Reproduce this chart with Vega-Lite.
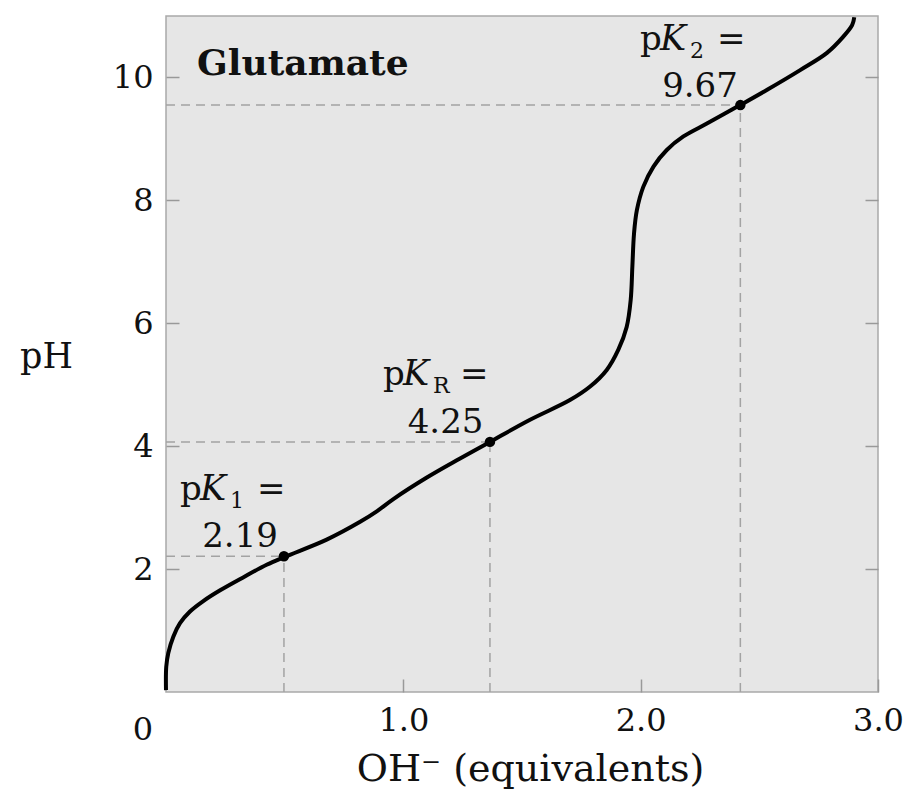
{
  "$schema": "https://vega.github.io/schema/vega-lite/v6.json",
  "width": 712,
  "height": 676,
  "autosize": "none",
  "padding": {"left": 166, "top": 16, "right": 31, "bottom": 97},
  "background": "white",
  "config": {
    "font": "DejaVu Serif",
    "view": {"stroke": "#a9a9a9", "strokeWidth": 1.5, "fill": "#e6e6e6"}
  },
  "datasets": {
    "curve": [
      {"x": 0.0, "y": 0.03}, {"x": 0.001, "y": 0.41}, {"x": 0.0097, "y": 0.635},
      {"x": 0.0308, "y": 0.9}, {"x": 0.059, "y": 1.12}, {"x": 0.101, "y": 1.31},
      {"x": 0.157, "y": 1.48}, {"x": 0.228, "y": 1.655}, {"x": 0.325, "y": 1.865},
      {"x": 0.424, "y": 2.07}, {"x": 0.501, "y": 2.2}, {"x": 0.677, "y": 2.48},
      {"x": 0.818, "y": 2.77}, {"x": 0.888, "y": 2.94}, {"x": 0.958, "y": 3.14},
      {"x": 1.099, "y": 3.49}, {"x": 1.239, "y": 3.8}, {"x": 1.365, "y": 4.07},
      {"x": 1.534, "y": 4.43}, {"x": 1.702, "y": 4.75}, {"x": 1.787, "y": 4.97},
      {"x": 1.857, "y": 5.24}, {"x": 1.906, "y": 5.57}, {"x": 1.941, "y": 5.94},
      {"x": 1.958, "y": 6.38}, {"x": 1.965, "y": 6.92}, {"x": 1.972, "y": 7.46},
      {"x": 1.984, "y": 7.84}, {"x": 2.011, "y": 8.22}, {"x": 2.054, "y": 8.55},
      {"x": 2.11, "y": 8.82}, {"x": 2.18, "y": 9.04}, {"x": 2.279, "y": 9.25},
      {"x": 2.419, "y": 9.55}, {"x": 2.533, "y": 9.8}, {"x": 2.672, "y": 10.12},
      {"x": 2.785, "y": 10.4}, {"x": 2.853, "y": 10.66}, {"x": 2.891, "y": 10.85},
      {"x": 2.9, "y": 10.98}
    ],
    "pk": [
      {"name": "pK1", "x": 0.497, "y": 2.21, "base": 0, "sub": "1", "eq": "=", "val": "2.19", "lx": 0.059, "ly": 3.125, "vx": 0.312, "vy": 2.36},
      {"name": "pKR", "x": 1.365, "y": 4.07, "base": 0, "sub": "R", "eq": "\u2008=", "val": "4.25", "lx": 0.914, "ly": 5.0, "vx": 1.178, "vy": 4.215},
      {"name": "pK2", "x": 2.42, "y": 9.55, "base": 0, "sub": "2", "eq": "=", "val": "9.67", "lx": 1.997, "ly": 10.45, "vx": 2.25, "vy": 9.68}
    ],
    "titles": [
      {"x": 0.131, "y": 10.04, "label": "Glutamate"}
    ],
    "origin": [
      {"x": 0, "y": 0, "label": "0"}
    ]
  },
  "resolve": {"axis": {"y": "independent"}},
  "layer": [
    {
      "data": {"name": "pk"},
      "mark": {"type": "rule", "strokeDash": [9, 6], "color": "#a3a3a3", "strokeWidth": 1.5},
      "encoding": {
        "x": {
          "field": "base", "type": "quantitative",
          "scale": {"domain": [0, 3], "nice": false},
          "axis": {
            "values": [1, 2, 3], "format": ".1f", "tickSize": -13, "tickColor": "#999999", "tickWidth": 1.5,
            "labelPadding": 51, "labelBaseline": "alphabetic", "labelFontSize": 32, "labelColor": "#111111",
            "labelFlush": false, "labelFont": "DejaVu Serif",
            "domain": false, "grid": false,
            "title": "OH\u207b (equivalents)", "titleFont": "DejaVu Serif", "titleFontSize": 38, "titleFontWeight": "normal",
            "titleColor": "#111111", "titleX": 364, "titleY": 88, "titleAlign": "center", "titleBaseline": "alphabetic"
          }
        },
        "x2": {"field": "x"},
        "y": {
          "field": "y", "type": "quantitative",
          "scale": {"domain": [0, 11], "nice": false},
          "axis": {
            "orient": "left",
            "values": [2, 4, 6, 8, 10], "tickSize": -13, "tickColor": "#999999", "tickWidth": 1.5,
            "labelPadding": 26, "labelFontSize": 32, "labelColor": "#111111", "labelFont": "DejaVu Serif",
            "labelBaseline": "middle", "labelFlush": false,
            "domain": false, "grid": false,
            "title": "pH", "titleAngle": 0, "titleFont": "DejaVu Serif", "titleFontSize": 35, "titleFontWeight": "normal",
            "titleColor": "#111111", "titleX": -120, "titleY": 351, "titleAlign": "center", "titleBaseline": "alphabetic"
          }
        }
      }
    },
    {
      "data": {"name": "pk"},
      "mark": {"type": "rule", "strokeDash": [9, 6], "color": "#a3a3a3", "strokeWidth": 1.5},
      "encoding": {
        "x": {"field": "x", "type": "quantitative"},
        "y": {
          "field": "base", "type": "quantitative",
          "axis": {"orient": "right", "values": [2, 4, 6, 8, 10], "tickSize": -13, "tickColor": "#999999", "tickWidth": 1.5,
                   "labels": false, "domain": false, "grid": false, "title": null}
        },
        "y2": {"field": "y"}
      }
    },
    {
      "data": {"name": "curve"},
      "mark": {"type": "line", "color": "black", "strokeWidth": 4, "interpolate": "catmull-rom"},
      "encoding": {
        "x": {"field": "x", "type": "quantitative"},
        "y": {"field": "y", "type": "quantitative", "axis": null}
      }
    },
    {
      "data": {"name": "pk"},
      "mark": {"type": "point", "filled": true, "color": "black", "size": 110, "opacity": 1},
      "encoding": {
        "x": {"field": "x", "type": "quantitative"},
        "y": {"field": "y", "type": "quantitative", "axis": null}
      }
    },
    {
      "data": {"name": "pk"},
      "mark": {"type": "text", "align": "left", "baseline": "alphabetic", "fontSize": 34, "color": "#111111"},
      "encoding": {
        "x": {"field": "lx", "type": "quantitative"},
        "y": {"field": "ly", "type": "quantitative", "axis": null},
        "text": {"value": "p"}
      }
    },
    {
      "data": {"name": "pk"},
      "mark": {"type": "text", "align": "left", "baseline": "alphabetic", "fontSize": 35, "fontStyle": "italic", "dx": 20, "color": "#111111"},
      "encoding": {
        "x": {"field": "lx", "type": "quantitative"},
        "y": {"field": "ly", "type": "quantitative", "axis": null},
        "text": {"value": "K"}
      }
    },
    {
      "data": {"name": "pk"},
      "mark": {"type": "text", "align": "left", "baseline": "alphabetic", "fontSize": 22, "dx": 50, "dy": 8, "color": "#111111"},
      "encoding": {
        "x": {"field": "lx", "type": "quantitative"},
        "y": {"field": "ly", "type": "quantitative", "axis": null},
        "text": {"field": "sub"}
      }
    },
    {
      "data": {"name": "pk"},
      "mark": {"type": "text", "align": "left", "baseline": "alphabetic", "fontSize": 34, "dx": 77, "color": "#111111"},
      "encoding": {
        "x": {"field": "lx", "type": "quantitative"},
        "y": {"field": "ly", "type": "quantitative", "axis": null},
        "text": {"field": "eq"}
      }
    },
    {
      "data": {"name": "pk"},
      "mark": {"type": "text", "align": "center", "baseline": "alphabetic", "fontSize": 34, "color": "#111111"},
      "encoding": {
        "x": {"field": "vx", "type": "quantitative"},
        "y": {"field": "vy", "type": "quantitative", "axis": null},
        "text": {"field": "val"}
      }
    },
    {
      "data": {"name": "titles"},
      "mark": {"type": "text", "align": "left", "baseline": "alphabetic", "fontSize": 36, "fontWeight": "bold", "color": "#111111"},
      "encoding": {
        "x": {"field": "x", "type": "quantitative"},
        "y": {"field": "y", "type": "quantitative", "axis": null},
        "text": {"field": "label"}
      }
    },
    {
      "data": {"name": "origin"},
      "mark": {"type": "text", "align": "center", "baseline": "alphabetic", "fontSize": 32, "dx": -23, "dy": 48, "color": "#111111"},
      "encoding": {
        "x": {"field": "x", "type": "quantitative"},
        "y": {"field": "y", "type": "quantitative", "axis": null},
        "text": {"field": "label"}
      }
    }
  ]
}
